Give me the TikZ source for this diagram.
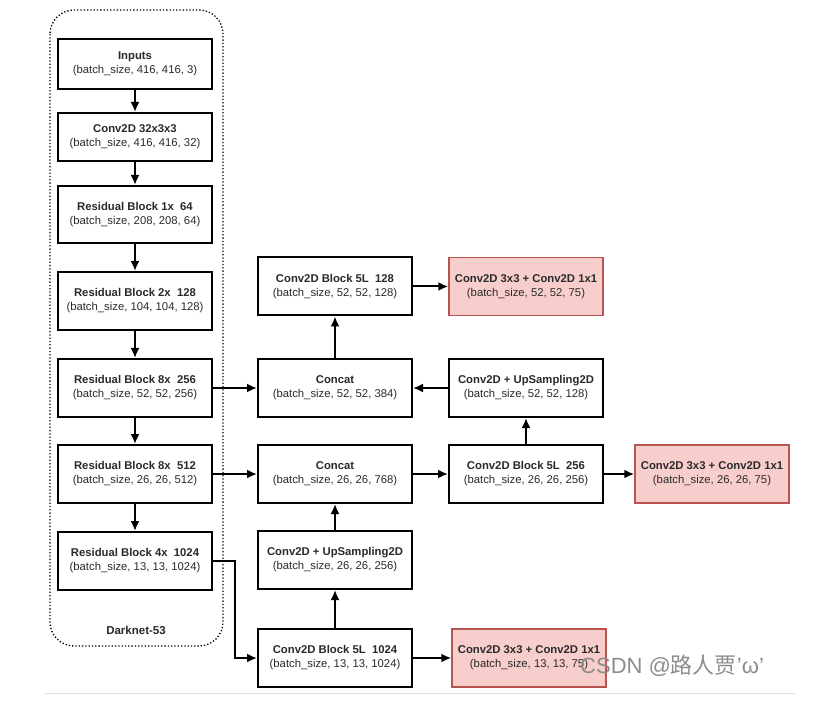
\documentclass[tikz,border=0pt]{standalone}
\usepackage{fontspec}
\setmainfont{Liberation Sans}
\newfontfamily\cjk{Noto Sans CJK SC}
\usetikzlibrary{arrows.meta}
\definecolor{redfill}{HTML}{F8CECC}
\definecolor{redline}{HTML}{B85450}
\definecolor{txt}{HTML}{2A2A2A}
\tikzset{
  blk/.style={draw=black, line width=2pt, fill=white, minimum width=154pt, minimum height=58pt, align=center, inner sep=0pt, font=\fontsize{11.3}{14}\selectfont, text=txt},
  redblk/.style={blk, draw=redline, fill=redfill, line width=1.5pt},
  conn/.style={line width=2pt, -{Latex[length=10pt,width=9pt]}},
}
\newcommand{\bt}[2]{\textbf{#1}\\#2}
\begin{document}
\begin{tikzpicture}[x=1pt,y=-1pt]
\useasboundingbox (0,0) rectangle (814,727);
\fill[white] (0,0) rectangle (814,727);
% rule of the page
\draw[black!12, line width=0.8pt] (45,693) -- (795,693);
% Darknet group
\draw[line width=1.3pt, dotted, rounded corners=24pt] (50,10) rectangle (223,646);
\node[font=\fontsize{11.5}{14}\selectfont\bfseries, text=txt] (dn) at (136,630) {Darknet-53};
% left column
\node[blk, minimum height=50pt] (in) at (135,64) {\bt{Inputs}{(batch\_size, 416, 416, 3)}};
\node[blk, minimum height=48pt] (c0) at (135,137) {\bt{Conv2D 32x3x3}{(batch\_size, 416, 416, 32)}};
\node[blk, minimum height=57pt] (r1) at (135,214.5) {\bt{Residual Block 1x\ \ 64}{(batch\_size, 208, 208, 64)}};
\node[blk] (r2) at (135,301) {\bt{Residual Block 2x\ \ 128}{(batch\_size, 104, 104, 128)}};
\node[blk] (r3) at (135,388) {\bt{Residual Block 8x\ \ 256}{(batch\_size, 52, 52, 256)}};
\node[blk] (r4) at (135,474) {\bt{Residual Block 8x\ \ 512}{(batch\_size, 26, 26, 512)}};
\node[blk] (r5) at (135,561) {\bt{Residual Block 4x\ \ 1024}{(batch\_size, 13, 13, 1024)}};
% middle column
\node[blk] (b128) at (335,286.5) {\bt{Conv2D Block 5L\ \ 128}{(batch\_size, 52, 52, 128)}};
\node[blk] (cat1) at (335,388) {\bt{Concat}{(batch\_size, 52, 52, 384)}};
\node[blk] (cat2) at (335,474) {\bt{Concat}{(batch\_size, 26, 26, 768)}};
\node[blk] (up2) at (335,560) {\bt{Conv2D + UpSampling2D}{(batch\_size, 26, 26, 256)}};
\node[blk] (b1024) at (335,658) {\bt{Conv2D Block 5L\ \ 1024}{(batch\_size, 13, 13, 1024)}};
% right column
\node[redblk] (o1) at (526,286.5) {\bt{Conv2D 3x3 + Conv2D 1x1}{(batch\_size, 52, 52, 75)}};
\node[blk] (up1) at (526,388) {\bt{Conv2D + UpSampling2D}{(batch\_size, 52, 52, 128)}};
\node[blk] (b256) at (526,474) {\bt{Conv2D Block 5L\ \ 256}{(batch\_size, 26, 26, 256)}};
\node[redblk] (o2) at (712,474) {\bt{Conv2D 3x3 + Conv2D 1x1}{(batch\_size, 26, 26, 75)}};
\node[redblk] (o3) at (529,658) {\bt{Conv2D 3x3 + Conv2D 1x1}{(batch\_size, 13, 13, 75)}};
% connectors
\draw[conn] (in) -- (c0);
\draw[conn] (c0) -- (r1);
\draw[conn] (r1) -- (r2);
\draw[conn] (r2) -- (r3);
\draw[conn] (r3) -- (r4);
\draw[conn] (r4) -- (r5);
\draw[conn] (r3) -- (cat1);
\draw[conn] (r4) -- (cat2);
\coordinate (k1) at (235,561);
\coordinate (k2) at (235,658);
\draw[conn] (r5.east) -- (k1) -- (k2) -- (b1024.west);
\draw[conn] (b1024) -- (up2);
\draw[conn] (up2) -- (cat2);
\draw[conn] (b1024) -- (o3);
\draw[conn] (cat2) -- (b256);
\draw[conn] (b256) -- (o2);
\draw[conn] (b256) -- (up1);
\draw[conn] (up1) -- (cat1);
\draw[conn] (cat1) -- (b128);
\draw[conn] (b128) -- (o1);
% watermark
\node[anchor=west, text=black!45, font=\fontsize{22}{26}\selectfont, inner sep=0pt] (wm) at (580,666) {CSDN @{\cjk 路人贾}{\char"0027}ω{\char"0027}};
\end{tikzpicture}
\end{document}
